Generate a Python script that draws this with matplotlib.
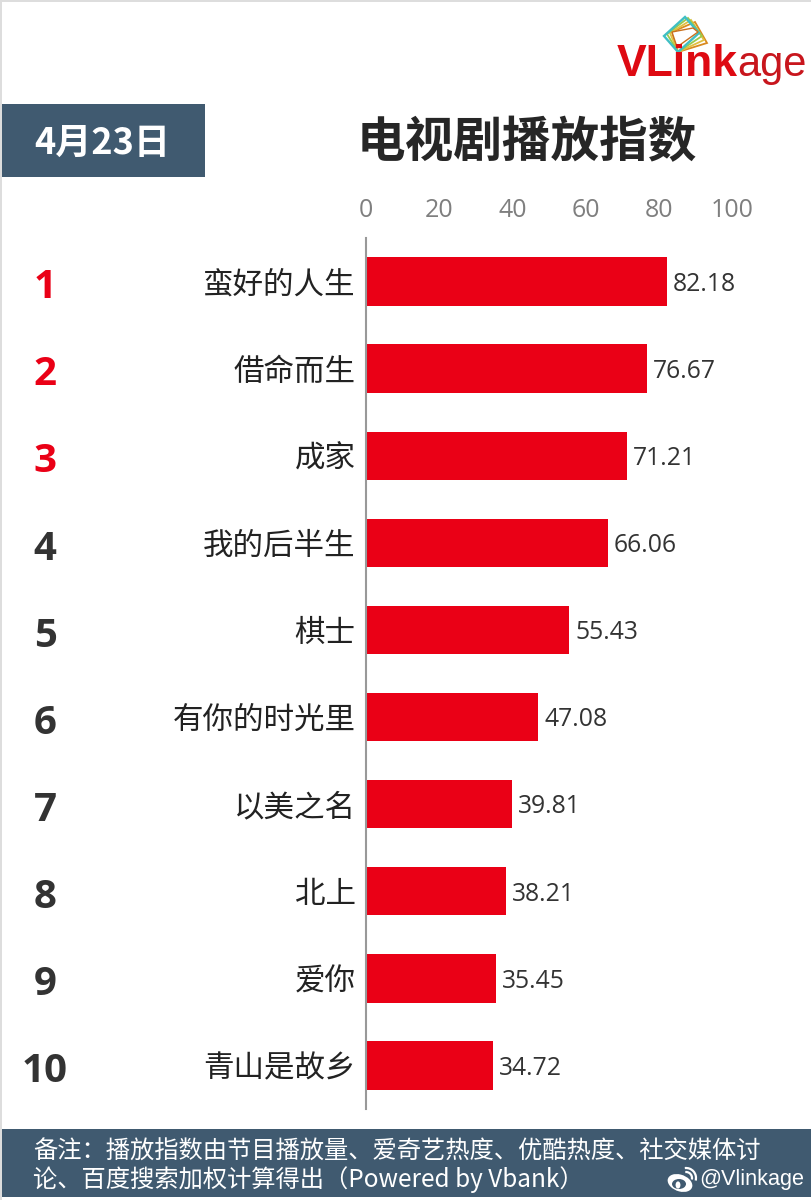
import matplotlib
matplotlib.use("Agg")
import matplotlib.pyplot as plt
from matplotlib.patches import Arc, Circle, Ellipse, Polygon, Rectangle

plt.rcParams["font.family"] = ["Noto Sans CJK SC", "DejaVu Sans"]

W, H = 811, 1200

shows = ["蛮好的人生", "借命而生", "成家", "我的后半生", "棋士", "有你的时光里", "以美之名", "北上", "爱你", "青山是故乡"]
scores = [82.18, 76.67, 71.21, 66.06, 55.43, 47.08, 39.81, 38.21, 35.45, 34.72]
ranks = ["1", "2", "3", "4", "5", "6", "7", "8", "9", "10"]
ticks = [0, 20, 40, 60, 80, 100]
date_label = "4月23日"
title = "电视剧播放指数"
note_lines = ["备注：播放指数由节目播放量、爱奇艺热度、优酷热度、社交媒体讨", "论、百度搜索加权计算得出（Powered by Vbank）"]

RED = "#EA0016"
SLATE = "#405A70"
DARK = "#333333"


def px(x, y):
    # pixel position, top-left origin -> figure fraction
    return x / W, 1 - y / H


def add_rect(fig, x0, y0, x1, y1, color):
    fig.add_artist(Rectangle(px(x0, y1), (x1 - x0) / W, (y1 - y0) / H, transform=fig.transFigure,
                             facecolor=color, edgecolor="none"))


def add_text(fig, x, y, s, **kw):
    fig.text(*px(x, y), s, va="center", **kw)


def draw_logo(fig):
    frames = [
        ("#D98A1E", [(672, 32), (695, 22), (707, 43), (678, 52)]),
        ("#E0C040", [(670, 33), (691, 20), (704, 40), (678, 52)]),
        ("#9CC94A", [(667, 34), (688, 18), (702, 36), (678, 52)]),
    ]
    for color, pts in frames:
        fig.add_artist(Polygon([px(*p) for p in pts], closed=True, fill=False, edgecolor=color,
                               linewidth=1.3, transform=fig.transFigure))
    fig.add_artist(Polygon([px(*p) for p in [(664, 36), (685, 17), (699, 33), (678, 52)]], closed=True,
                           fill=False, edgecolor="#3FBFC4", linewidth=1.7, transform=fig.transFigure))
    fig.add_artist(Polygon([px(*p) for p in [(672, 32), (693, 28), (698, 32), (677, 47)]], closed=True,
                           facecolor="white", edgecolor="#C9701E", linewidth=1.0, transform=fig.transFigure))
    fig.text(*px(617, 76), "VLink", color="#DE0A12", fontsize=32, fontweight="bold",
             family="Liberation Sans", va="baseline")
    fig.text(*px(737, 76), "age", color="#C8161D", fontsize=30, family="Liberation Sans", va="baseline")


def draw_weibo(fig):
    fig.add_artist(Ellipse(px(680, 1183), 25 / W, 17 / H, angle=-10, transform=fig.transFigure, facecolor="white",
                           edgecolor="none"))
    fig.add_artist(Ellipse(px(679, 1184), 14 / W, 10 / H, transform=fig.transFigure, facecolor=SLATE,
                           edgecolor="none"))
    fig.add_artist(Circle(px(678, 1185), 0.003, transform=fig.transFigure, facecolor="white", edgecolor="none"))
    for size in [12, 20]:
        fig.add_artist(Arc(px(686, 1178), size / W, size / H, theta1=-10, theta2=100, transform=fig.transFigure,
                           color="white", linewidth=1.6))


def main():
    fig = plt.figure(figsize=(W / 100, H / 100), dpi=100, facecolor="white")

    # grey screenshot edge
    add_rect(fig, 0, 0, W, 2, "#DDDDDD")
    add_rect(fig, 0, 0, 2, H, "#DDDDDD")

    ax = fig.add_axes([366 / W, 1 - 1109 / H, 366 / W, 871 / H])
    y = list(range(len(shows)))
    ax.barh(y, scores, height=0.555, color=RED)
    ax.set_xlim(0, 100)
    ax.set_ylim(len(shows) - 0.5, -0.5)
    ax.xaxis.tick_top()
    ax.set_xticks(ticks)
    ax.set_xticklabels(ticks, fontsize=18, color="#7F7F7F", family="Open Sans")
    ax.tick_params(axis="x", length=0, pad=10.5)
    ax.set_yticks(y)
    ax.set_yticklabels(shows, fontsize=22, color="#222222")
    ax.tick_params(axis="y", length=0, pad=7.5)
    for side in ["top", "right", "bottom"]:
        ax.spines[side].set_visible(False)
    ax.spines["left"].set_color("#999999")
    ax.spines["left"].set_linewidth(1.5)

    for i, v in enumerate(scores):
        ax.annotate(f"{v:.2f}", (v, i), xytext=(4.5, -2), textcoords="offset points", va="center", ha="left",
                    fontsize=17.8, color=DARK, family="Open Sans")
        color = RED if i < 3 else DARK
        ax.annotate(ranks[i], (0, i), xycoords=("axes fraction", "data"), xytext=(45, -4.5),
                    textcoords=("figure pixels", "offset points"),
                    va="center", ha="center", fontsize=29, fontweight="bold", color=color, family="Open Sans")

    add_rect(fig, 2, 104, 205, 177, SLATE)
    add_text(fig, 102, 143, date_label, ha="center", color="white", fontsize=26, fontweight="bold")
    add_text(fig, 527, 143, title, ha="center", color="#262626", fontsize=35, fontweight="bold")

    draw_logo(fig)

    add_rect(fig, 2, 1129, W, 1197, SLATE)
    add_text(fig, 33, 1152, note_lines[0], ha="left", color="white", fontsize=17.5)
    add_text(fig, 33, 1180, note_lines[1], ha="left", color="white", fontsize=17.5)
    draw_weibo(fig)
    add_text(fig, 699, 1179, "@Vlinkage", ha="left", color="white", fontsize=15.6, family="Liberation Sans")

    fig.savefig("out.png", dpi=100)
    plt.close(fig)


if __name__ == "__main__":
    main()
